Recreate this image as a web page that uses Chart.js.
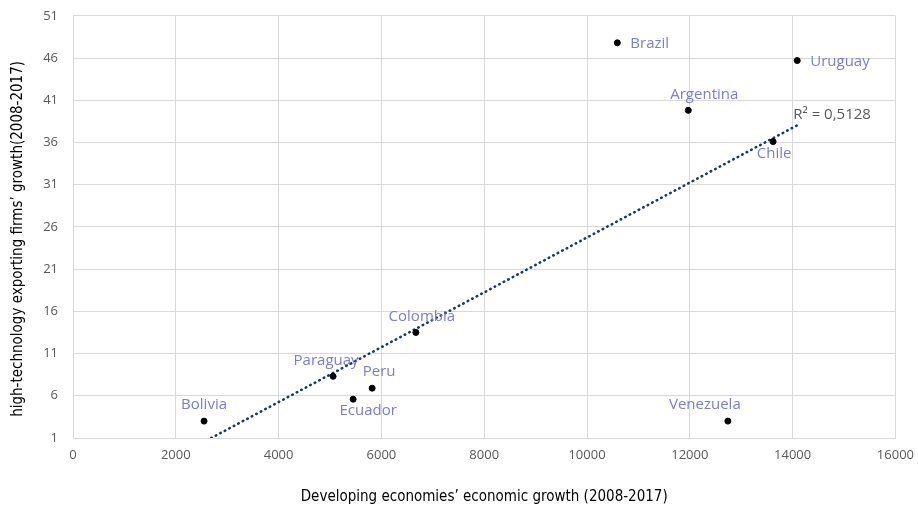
<!DOCTYPE html>
<html>
<head>
<meta charset="utf-8">
<script src="https://cdn.jsdelivr.net/npm/chart.js@4.4.1/dist/chart.umd.min.js"></script>
<style>
    html, body { margin: 0; padding: 0; background: #fff; }
    #wrap { width: 918px; height: 506px; overflow: hidden; position: relative; }
    #inner { width: 923px; height: 513px; margin-top: -7px; position: relative; }
</style>
</head>
<body>
<div id="wrap"><div id="inner"><canvas id="scatterChart"></canvas></div></div>
<script>
    // DADOS
    const countries = ["Bolivia", "Paraguay", "Ecuador", "Peru", "Colombia", "Brazil", "Argentina", "Uruguay", "Chile", "Venezuela"];
    const economicGrowth = [2550, 5060, 5450, 5820, 6670, 10590, 11970, 14090, 13620, 12740];
    const firmsGrowth = [3.0, 8.3, 5.6, 6.9, 13.5, 47.8, 39.8, 45.7, 36.1, 3.0];

    // linha de tendência
    const trendX = [2690, 14110];
    const trendY = [1.0, 38.1];
    const rSquaredText = "R² = 0,5128";

    const xTicks = { min: 0, max: 16000, step: 2000 };
    const yTicks = { min: 1, max: 51, step: 5 };

    const xTitle = "Developing economies’ economic growth (2008-2017)";
    const yTitle = "high-technology exporting firms’ growth(2008-2017)";

    // onde fica cada rótulo em relação ao ponto
    const labelPlacement = {
        Bolivia: ["above", 0], Paraguay: ["above", -7], Ecuador: ["below", 15], Peru: ["above", 7],
        Colombia: ["above", 6], Brazil: ["right", 0], Argentina: ["above", 16], Uruguay: ["right", 0],
        Chile: ["below", 1], Venezuela: ["above", -23]
    };

    const titleFamily = "'Liberation Sans Narrow', 'DejaVu Sans Condensed', sans-serif";

    const pointLabels = {
        id: "pointLabels",
        afterDatasetsDraw(chart) {
            const ctx = chart.ctx;
            const meta = chart.getDatasetMeta(0);
            ctx.save();
            ctx.font = "15px 'Open Sans', sans-serif";
            ctx.fillStyle = "#7b7bd8";
            ctx.textBaseline = "middle";
            meta.data.forEach((pt, i) => {
                const name = countries[i];
                const [where, dx] = labelPlacement[name];
                if (where === "right") {
                    ctx.textAlign = "left";
                    ctx.fillText(name, pt.x + 13, pt.y + 1);
                } else if (where === "above") {
                    ctx.textAlign = "center";
                    ctx.fillText(name, pt.x + dx, pt.y - 16);
                } else {
                    ctx.textAlign = "center";
                    ctx.fillText(name, pt.x + dx, pt.y + 12);
                }
            });
            // R²
            const tm = chart.getDatasetMeta(1);
            const end = tm.data[tm.data.length - 1];
            ctx.fillStyle = "#595959";
            ctx.textAlign = "left";
            ctx.fillText(rSquaredText, end.x - 5, end.y - 10);

            // título do eixo Y (um pouco abaixo do centro, como no original)
            const area = chart.chartArea;
            ctx.fillStyle = "#000";
            ctx.font = "15px " + titleFamily;
            ctx.translate(18, (area.top + area.bottom) / 2 + 12);
            ctx.rotate(-Math.PI / 2);
            ctx.textAlign = "center";
            ctx.fillText(yTitle, 0, 0);
            ctx.restore();
        }
    };

    const tickFont = { family: "'Open Sans', sans-serif", size: 13 };

    const ctx = document.getElementById("scatterChart").getContext("2d");
    new Chart(ctx, {
        type: "scatter",
        data: {
            datasets: [
                {
                    data: economicGrowth.map((x, i) => ({ x, y: firmsGrowth[i] })),
                    backgroundColor: "#000",
                    borderColor: "#000",
                    pointRadius: 3,
                    order: 0
                },
                {
                    type: "line",
                    data: trendX.map((x, i) => ({ x, y: trendY[i] })),
                    borderColor: "#1f3864",
                    borderWidth: 2.6,
                    borderDash: [0.5, 4.6],
                    borderCapStyle: "round",
                    pointRadius: 0,
                    fill: false,
                    order: 1
                }
            ]
        },
        options: {
            responsive: true,
            maintainAspectRatio: false,
            animation: false,
            layout: { padding: { top: 7, right: 13, left: 0, bottom: 0 } },
            plugins: { legend: { display: false }, tooltip: { enabled: false } },
            scales: {
                x: {
                    type: "linear",
                    min: xTicks.min, max: xTicks.max,
                    afterFit: (s) => { s.height = 68; },
                    ticks: { stepSize: xTicks.step, color: "#595959", font: tickFont, padding: 9, maxRotation: 0,
                        callback: (v) => String(v) },
                    grid: { color: "#d9d9d9", drawTicks: false },
                    border: { color: "#d9d9d9" },
                    title: { display: true, text: xTitle, color: "#000",
                        font: { family: titleFamily, size: 15 }, padding: { top: 18, bottom: 0 } }
                },
                y: {
                    min: yTicks.min, max: yTicks.max,
                    afterFit: (s) => { s.width = 73; },
                    ticks: { stepSize: yTicks.step, color: "#595959", font: tickFont, padding: 15 },
                    grid: { color: "#d9d9d9", drawTicks: false },
                    border: { color: "#d9d9d9" },
                    title: { display: false }
                }
            }
        },
        plugins: [pointLabels]
    });
</script>
</body>
</html>
